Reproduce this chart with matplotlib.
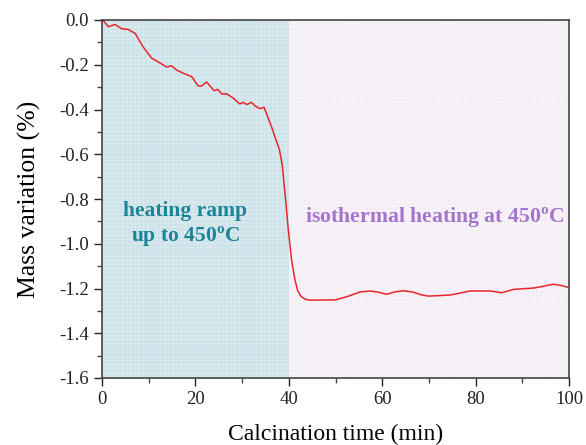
import numpy as np
import matplotlib
matplotlib.use('Agg')
import matplotlib.pyplot as plt

# mass loss curve
time_min = [0.3, 1.35, 2.8, 4.2, 5.6, 7.1, 8.8, 10.6, 12.1, 13.8, 14.9, 16.0, 17.4,
            19.2, 20.6, 21.3, 22.4, 24.0, 24.8, 25.6, 26.7, 28.1, 29.5, 30.2, 31.0,
            32.0, 32.8, 33.8, 34.7, 35.2, 36.3, 37.0, 38.0, 38.6, 39.3, 39.9, 40.6,
            41.3, 41.9, 42.6, 43.5, 44.5, 49.9, 52.4, 55.2, 57.4, 59.3, 60.9, 62.8,
            64.5, 66.6, 68.3, 69.9, 72.0, 74.5, 76.8, 78.8, 83.1, 85.6, 88.1, 92.4,
            94.5, 96.6, 98.0, 100.0]
mass_var = [-0.003, -0.03, -0.02, -0.039, -0.042, -0.06, -0.12, -0.17, -0.188, -0.21,
            -0.205, -0.224, -0.238, -0.253, -0.295, -0.295, -0.277, -0.316, -0.31,
            -0.33, -0.33, -0.349, -0.375, -0.368, -0.378, -0.368, -0.384, -0.396,
            -0.39, -0.417, -0.477, -0.52, -0.58, -0.65, -0.8, -0.94, -1.073, -1.16,
            -1.21, -1.235, -1.248, -1.252, -1.251, -1.237, -1.216, -1.211, -1.217,
            -1.226, -1.215, -1.21, -1.216, -1.228, -1.234, -1.232, -1.229, -1.22,
            -1.211, -1.211, -1.219, -1.204, -1.198, -1.19, -1.181, -1.185, -1.196]

ramp_end = 40
x_ticks = [0, 20, 40, 60, 80, 100]
y_ticks = [0.0, -0.2, -0.4, -0.6, -0.8, -1.0, -1.2, -1.4, -1.6]

plt.rcParams['font.family'] = 'Liberation Serif'
plt.rcParams['mathtext.fontset'] = 'custom'
plt.rcParams['mathtext.rm'] = 'Liberation Serif'
plt.rcParams['mathtext.bf'] = 'Liberation Serif:bold'
plt.rcParams['hatch.linewidth'] = 0.4

fig = plt.figure(figsize=(5.86, 4.45), dpi=100)
ax = fig.add_axes([102 / 586, 1 - 378 / 445, 467 / 586, 358 / 445])

ax.axvspan(0, ramp_end, facecolor='#cde3e9', edgecolor='#e2eff2', hatch='++++', lw=0)
ax.axvspan(ramp_end, 100, facecolor='#f4edf5', edgecolor='#fbf8fb', hatch='++++', lw=0)

ax.plot(time_min, mass_var, color='#e8262b', lw=1.1)

ax.text(17.8, -0.915, 'heating ramp\nup to 450$^{\\mathbf{o}}$C', color='#1c8598',
        fontsize=15.5, fontweight='bold', ha='center', va='center', linespacing=1.2)
ax.text(71.2, -0.885, 'isothermal heating at 450$^{\\mathbf{o}}$C', color='#a574cc',
        fontsize=15.7, fontweight='bold', ha='center', va='center')

ax.set_xlim(0, 100)
ax.set_ylim(-1.6, 0)
ax.set_xticks(x_ticks)
ax.set_yticks(y_ticks)
ax.set_yticklabels(['%.1f' % v for v in y_ticks])
ax.set_xticks(np.arange(10, 100, 20), minor=True)
ax.set_yticks(np.arange(-1.5, 0, 0.2), minor=True)
ax.tick_params(which='major', direction='out', length=6, width=1, labelsize=13.5, colors='#222222')
ax.tick_params(which='minor', direction='out', length=3.5, width=1, colors='#444444')
for s in ax.spines.values():
    s.set_color('#444444')
    s.set_linewidth(1.2)

ax.set_xlabel('Calcination time (min)', fontsize=17, labelpad=11)
ax.set_ylabel('Mass variation (%)', fontsize=18.5, labelpad=13)

fig.savefig('out.png', dpi=100)
